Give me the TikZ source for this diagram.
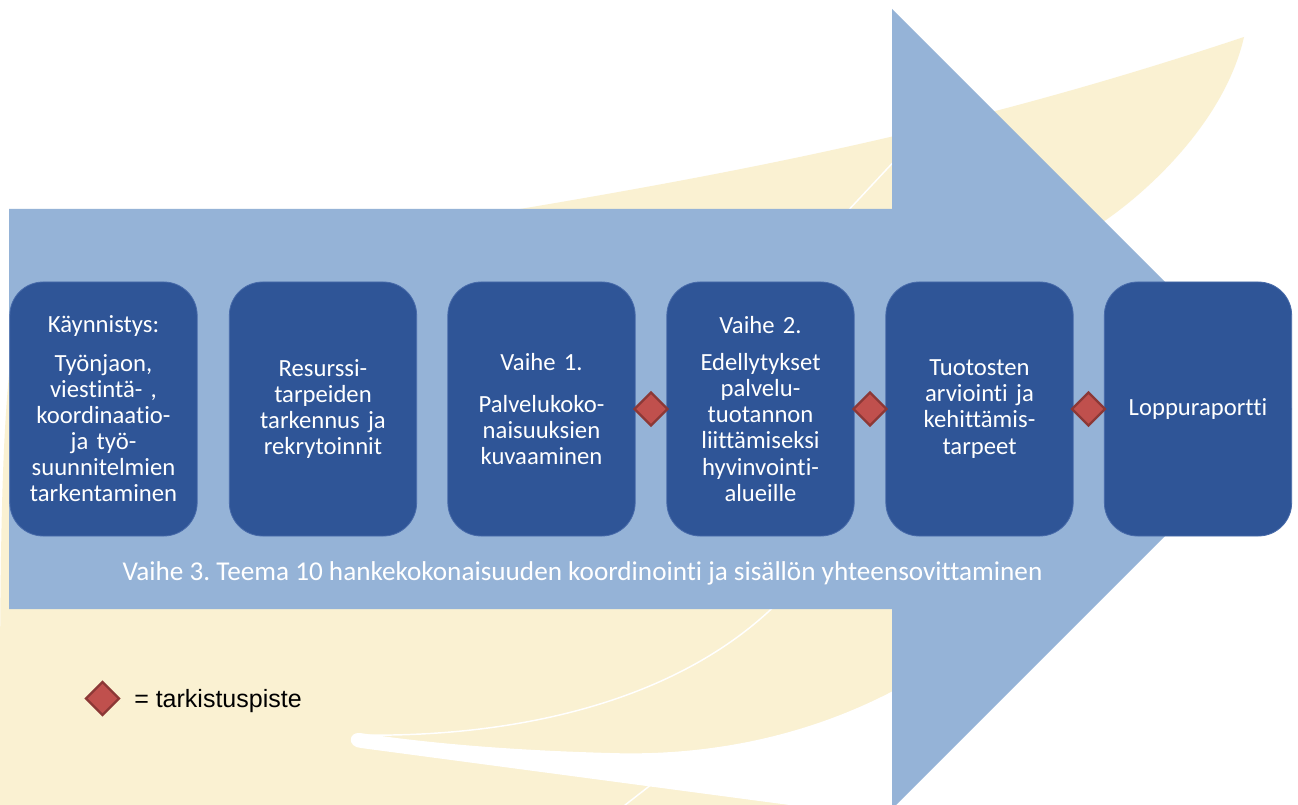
\documentclass[tikz,border=0pt]{standalone}
\usepackage{fontspec}
\setmainfont{Carlito}[Ligatures={NoCommon}]
\newfontfamily\arialf{Liberation Sans}
\usetikzlibrary{shapes.geometric}
\definecolor{bandblue}{RGB}{149,179,215}
\definecolor{boxblue}{RGB}{47,85,151}
\definecolor{boxedge}{RGB}{72,107,170}
\definecolor{swoosh}{RGB}{250,241,210}
\definecolor{chkred}{RGB}{192,80,77}
\definecolor{chkedge}{RGB}{140,56,54}
\frenchspacing
\begin{document}
\begin{tikzpicture}[x=0.75pt,y=-0.75pt,
  stepbox/.style={rectangle, rounded corners=25pt, fill=boxblue, draw=boxedge, line width=0.6pt,
    minimum width=140.5pt, minimum height=190.5pt, text width=138pt, align=center, text=white,
    inner sep=0pt, font=\fontsize{18.5}{19.6}\selectfont},
  chk/.style={diamond, aspect=1, fill=chkred, draw=chkedge, line width=1.8pt, inner sep=0pt, minimum size=25.5pt},
  thinline/.style={white, line width=1.1pt},
]
\useasboundingbox (0,0) rectangle (1298,805);
\clip (0,0) rectangle (1298,805);
\fill[white] (0,0) rectangle (1298,805);
% background swoosh
\fill[swoosh] (1244,37) .. controls (1225,120) and (1150,190) .. (1103,222) -- (1000,330) -- (895,600) -- (895,810) -- (0,810) -- (0,660)
  .. controls (1,520) and (2,380) .. (20,300) .. controls (150,270) and (400,230) .. (520,209)
  .. controls (800,162) and (1000,118) .. (1244,37) -- cycle;
\fill[white] (895,690) .. controls (800,740) and (700,756) .. (610,753) .. controls (500,750) and (420,742) .. (360,733)
  .. controls (348,732) and (347,747) .. (361,748) -- (797,806) -- (895,806) -- cycle;
\draw[thinline] (357,735) .. controls (520,738) and (690,700) .. (790,590);
\draw[thinline] (830,230) -- (900,155);
\draw[thinline] (652,784) -- (620,809);
% big arrow
\fill[bandblue] (9,209) -- (892,209) -- (892,9) -- (1292,409) -- (892,809) -- (892,609) -- (9,609) -- cycle;
% steps
\node[stepbox] (b1) at (103.5,409) {Käynnistys:\\[9pt]Työnjaon,\\viestintä- ,\\koordinaatio-\\ja työ-\\suunnitelmien\\tarkentaminen};
\node[stepbox] (b2) at (323,409) {Resurssi-\\tarpeiden\\tarkennus ja\\rekrytoinnit};
\node[stepbox] (b3) at (541.5,409) {Vaihe 1.\\[12pt]Palvelukoko-\\naisuuksien\\kuvaaminen};
\node[stepbox] (b4) at (760.5,409) {Vaihe 2.\\[8pt]Edellytykset\\palvelu-\\tuotannon\\liittämiseksi\\hyvinvointi-\\alueille};
\node[stepbox] (b5) at (979.5,409) {Tuotosten\\arviointi ja\\kehittämis-\\tarpeet};
\node[stepbox] (b6) at (1198,409) {Loppuraportti};
% checkpoints
\node[chk] (d1) at (651,409) {};
\node[chk] (d2) at (870,409) {};
\node[chk] (d3) at (1088.5,409) {};
% phase 3 text
\node[text=white, inner sep=0pt, font=\fontsize{20.4}{24}\selectfont] (v3) at (582.5,573) {Vaihe 3. Teema 10 hankekokonaisuuden koordinointi ja sisällön yhteensovittaminen};
% legend
\node[chk] (legd) at (102.5,698.5) {};
\node[anchor=base west, inner sep=0pt, font=\arialf\fontsize{18.75}{22}\selectfont] (legt) at (134,707) {= tarkistuspiste};
\end{tikzpicture}
\end{document}
